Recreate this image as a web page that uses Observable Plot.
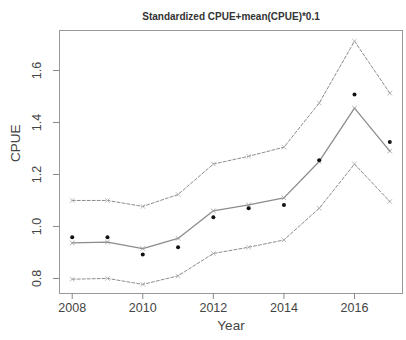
<!DOCTYPE html>
<html>
<head>
<meta charset="utf-8">
<script src="https://cdn.jsdelivr.net/npm/d3@7"></script>
<script src="https://cdn.jsdelivr.net/npm/@observablehq/plot@0.6"></script>
<style>
html, body { margin: 0; padding: 0; background: #fff; }
svg { font-family: "Liberation Sans", Arial, sans-serif; }
</style>
</head>
<body>
<div id="chart"></div>
<script>
const years = [2008, 2009, 2010, 2011, 2012, 2013, 2014, 2015, 2016, 2017];
const meanCpue = [0.937, 0.94, 0.915, 0.954, 1.06, 1.083, 1.11, 1.25, 1.455, 1.29];
const upperCpue = [1.10, 1.10, 1.077, 1.123, 1.24, 1.27, 1.305, 1.475, 1.713, 1.513];
const lowerCpue = [0.797, 0.80, 0.777, 0.81, 0.896, 0.92, 0.948, 1.07, 1.24, 1.096];
const obsCpue = [0.958, 0.958, 0.892, 0.92, 1.035, 1.07, 1.083, 1.255, 1.508, 1.325];
const xTicks = [2008, 2010, 2012, 2014, 2016];
const yTicks = [0.8, 1.0, 1.2, 1.4, 1.6];
const titleText = "Standardized CPUE+mean(CPUE)*0.1";

const rows = years.map((y, i) => ({year: y, mean: meanCpue[i], upper: upperCpue[i], lower: lowerCpue[i], obs: obsCpue[i]}));

const gray = "#8c8c8c";
const plot = Plot.plot({
  width: 406,
  height: 340,
  marginLeft: 59,
  marginRight: 4,
  marginTop: 30,
  marginBottom: 47,
  style: {fontFamily: "'Liberation Sans', Arial, sans-serif", color: "#333", background: "#fff"},
  x: {domain: [2007.64, 2017.36]},
  y: {domain: [0.742, 1.754]},
  marks: [
    Plot.frame({stroke: "#999", strokeWidth: 1}),
    Plot.axisX({ticks: xTicks, tickFormat: d => String(d), tickSize: 6, tickPadding: 4, fontSize: 12.5, stroke: "#888", fill: "#444", label: null}),
    Plot.axisY({ticks: yTicks, tickFormat: d => d.toFixed(1), tickSize: 6, tickPadding: 13, tickRotate: -90, textAnchor: "middle", fontSize: 12.5, stroke: "#888", fill: "#444", label: null}),
    Plot.text(["Year"], {frameAnchor: "bottom", dy: 36, fontSize: 13.5, fill: "#444"}),
    Plot.text(["CPUE"], {frameAnchor: "left", dx: -44, rotate: -90, fontSize: 13.5, fill: "#444"}),
    Plot.text([titleText], {frameAnchor: "top", dy: -18, fontSize: 10, fontWeight: "bold", fill: "#333"}),
    Plot.line(rows, {x: "year", y: "upper", stroke: gray, strokeWidth: 1, strokeDasharray: "3,2"}),
    Plot.line(rows, {x: "year", y: "lower", stroke: gray, strokeWidth: 1, strokeDasharray: "3,2"}),
    Plot.line(rows, {x: "year", y: "mean", stroke: gray, strokeWidth: 1.3}),
    Plot.dot(rows, {x: "year", y: "upper", symbol: "times", r: 2.2, stroke: "#aaa", strokeWidth: 0.8}),
    Plot.dot(rows, {x: "year", y: "lower", symbol: "times", r: 2.2, stroke: "#aaa", strokeWidth: 0.8}),
    Plot.dot(rows, {x: "year", y: "mean", symbol: "times", r: 2.2, stroke: "#999", strokeWidth: 0.8}),
    Plot.dot(rows, {x: "year", y: "obs", r: 2, fill: "#111", stroke: "none"})
  ]
});
document.getElementById("chart").append(plot);
</script>
</body>
</html>
